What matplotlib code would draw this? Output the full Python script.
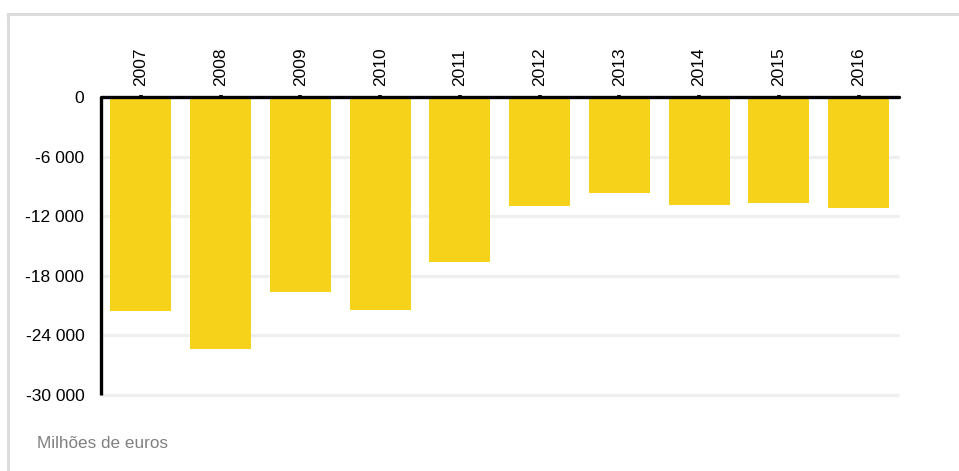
import matplotlib
matplotlib.use("Agg")
import matplotlib.pyplot as plt
from matplotlib.lines import Line2D

plt.rcParams['font.family'] = ['Liberation Sans', 'DejaVu Sans']

years = ['2007', '2008', '2009', '2010', '2011', '2012', '2013', '2014', '2015', '2016']
values = [-21500, -25400, -19600, -21400, -16600, -11000, -9700, -10900, -10700, -11200]
yticks = [0, -6000, -12000, -18000, -24000, -30000]
ytick_labels = ['0', '-6 000', '-12 000', '-18 000', '-24 000', '-30 000']
unit_label = 'Milhões de euros'

W, H = 959, 471
fig = plt.figure(figsize=(W / 100, H / 100), dpi=100)

# outer card frame (top and left borders)
fig.add_artist(Line2D([8 / W, 1.0], [1 - 14 / H, 1 - 14 / H], transform=fig.transFigure,
                      color='#dcdcdc', lw=2.2))
fig.add_artist(Line2D([8 / W, 8 / W], [0.0, 1 - 14 / H], transform=fig.transFigure,
                      color='#dcdcdc', lw=2.2))

left, right = 101 / W, 898.5 / W
top, bottom = 1 - 97 / H, 1 - 395 / H
ax = fig.add_axes([left, bottom, right - left, top - bottom])

x = list(range(len(years)))
ax.bar(x, values, width=0.765, color='#F6D21A', zorder=2)

ax.set_xlim(-0.5, len(years) - 0.5)
ax.set_ylim(-30000, 0)

# gridlines
for yv in yticks[1:]:
    ax.axhline(yv, color='#efefef', lw=2.4, zorder=1, clip_on=False, solid_capstyle='butt')

ax.set_yticks(yticks)
ax.set_yticklabels(ytick_labels, fontsize=12.5)
ax.tick_params(axis='y', length=0, pad=12)

ax.xaxis.tick_top()
ax.set_xticks(x)
ax.set_xticklabels(years, rotation=90, fontsize=12.5)
ax.tick_params(axis='x', direction='inout', length=3.5, width=2.6, color='black', pad=6.5)

for s in ['right', 'bottom']:
    ax.spines[s].set_visible(False)
ax.spines['top'].set_linewidth(2.4)
ax.spines['left'].set_linewidth(2.4)
ax.spines['top'].set_capstyle('round')
ax.spines['left'].set_capstyle('butt')
ax.spines['top'].set_zorder(3)
ax.spines['left'].set_zorder(3)

fig.text(37 / W, 1 - 444 / H, unit_label, fontsize=12.3, color='#808080', va='center', ha='left')

fig.savefig('out.png', dpi=100, facecolor='white')
